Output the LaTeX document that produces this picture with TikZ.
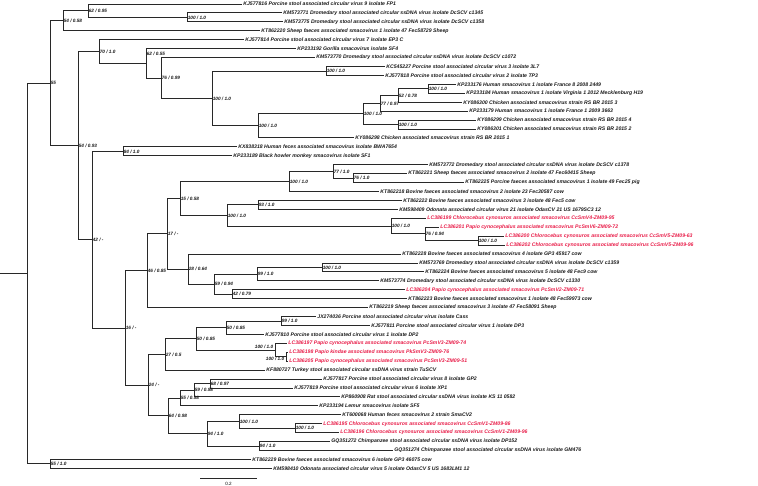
\documentclass[tikz,border=0pt]{standalone}
\usepackage{fontspec}
\setmainfont{Liberation Sans}
\usetikzlibrary{calc}
\definecolor{accred}{RGB}{232,28,72}
\definecolor{treeline}{RGB}{40,40,40}
\tikzset{
  leaf/.style={anchor=west, inner xsep=1.2pt, inner ysep=0pt, font=\fontsize{5.15}{6}\selectfont\bfseries\itshape, text=black!90},
  redleaf/.style={leaf, text=accred},
  sup/.style={anchor=west, inner sep=0.6pt, font=\fontsize{4.7}{5}\selectfont\bfseries\itshape, text=black!90},
  br/.style={draw=treeline, line width=0.9pt},
}
\newcommand{\brn}[2]{\draw[br] (#1) |- (#2);}
\newcommand{\suplab}[3][]{\node[sup,#1] (s-#2) at (#2) {#3};}
\begin{document}
\begin{tikzpicture}[x=1pt,y=-1pt]
\useasboundingbox (0,0) rectangle (758,486);
% ---------- leaves ----------
\node[leaf] (l1) at (242,4.00) {KJ577816 Porcine stool associated circular virus 9 isolate FP1};
\node[leaf] (l2) at (282,12.93) {KM573771 Dromedary stool associated circular ssDNA virus isolate DcSCV c1345};
\node[leaf] (l3) at (283,21.86) {KM573775 Dromedary stool associated circular ssDNA virus isolate DcSCV c1358};
\node[leaf] (l4) at (260,30.79) {KT862220 Sheep faeces associated smacovirus 1 isolate 47 Fec58729 Sheep};
\node[leaf] (l5) at (244,39.72) {KJ577814 Porcine stool associated circular virus 7 isolate EP3 C};
\node[leaf] (l6) at (296,48.65) {KP233192 Gorilla smacovirus isolate SF4};
\node[leaf] (l7) at (315,57.58) {KM573770 Dromedary stool associated circular ssDNA virus isolate DcSCV c1072};
\node[leaf] (l8) at (385,66.51) {KC545227 Porcine stool associated circular virus 3 isolate 3L7};
\node[leaf] (l9) at (384,75.44) {KJ577818 Porcine stool associated circular virus 2 isolate TP3};
\node[leaf] (l10) at (456,84.37) {KP233176 Human smacovirus 1 isolate France 8 2008 2449};
\node[leaf] (l11) at (465,93.30) {KP233184 Human smacovirus 1 isolate Virginia 1 2012 Mecklenburg H19};
\node[leaf] (l12) at (462,102.23) {KY086300 Chicken associated smacovirus strain RS BR 2015 3};
\node[leaf] (l13) at (468,111.16) {KP233179 Human smacovirus 1 isolate France 1 2009 3663};
\node[leaf] (l14) at (476,120.09) {KY086299 Chicken associated smacovirus strain RS BR 2015 4};
\node[leaf] (l15) at (476,129.02) {KY086301 Chicken associated smacovirus strain RS BR 2015 2};
\node[leaf] (l16) at (354,137.95) {KY086298 Chicken associated smacovirus strain RS BR 2015 1};
\node[leaf] (l17) at (237,146.88) {KX838318 Human feces associated smacovirus isolate BWA7654};
\node[leaf] (l18) at (232,155.81) {KP233189 Black howler monkey smacovirus isolate SF1};
\node[leaf] (l19) at (428,164.74) {KM573772 Dromedary stool associated circular ssDNA virus isolate DcSCV c1378};
\node[leaf] (l20) at (407,173.67) {KT862221 Sheep faeces associated smacovirus 2 isolate 47 Fec60415 Sheep};
\node[leaf] (l21) at (464,182.60) {KT862225 Porcine faeces associated smacovirus 1 isolate 49 Fec25 pig};
\node[leaf] (l22) at (379,191.53) {KT862218 Bovine faeces associated smacovirus 2 isolate 23 Fec30587 cow};
\node[leaf] (l23) at (402,200.46) {KT862222 Bovine faeces associated smacovirus 3 isolate 48 Fec5 cow};
\node[leaf] (l24) at (398,209.39) {KM598409 Odonata associated circular virus 21 isolate OdasCV 21 US 1679SC3 12};
\node[redleaf] (l25) at (426,218.32) {LC386199 Chlorocebus cynosuros associated smacovirus CcSmV4-ZM09-95};
\node[redleaf] (l26) at (439,227.25) {LC386201 Papio cynocephalus associated smacovirus PcSmV6-ZM09-72};
\node[redleaf] (l27) at (504,236.18) {LC386200 Chlorocebus cynosuros associated smacovirus CcSmV5-ZM09-63};
\node[redleaf] (l28) at (505,245.11) {LC386202 Chlorocebus cynosuros associated smacovirus CcSmV5-ZM09-96};
\node[leaf] (l29) at (401,254.04) {KT862228 Bovine faeces associated smacovirus 4 isolate GP3 45917 cow};
\node[leaf] (l30) at (418,262.97) {KM573769 Dromedary stool associated circular ssDNA virus isolate DcSCV c1359};
\node[leaf] (l31) at (424,271.90) {KT862224 Bovine faeces associated smacovirus 5 isolate 48 Fec9 cow};
\node[leaf] (l32) at (379,280.83) {KM573774 Dromedary stool associated circular ssDNA virus isolate DcSCV c1330};
\node[redleaf] (l33) at (405,289.76) {LC386204 Papio cynocephalus associated smacovirus PcSmV2-ZM09-71};
\node[leaf] (l34) at (407,298.69) {KT862223 Bovine faeces associated smacovirus 1 isolate 48 Fec59973 cow};
\node[leaf] (l35) at (368,307.62) {KT862219 Sheep faeces associated smacovirus 3 isolate 47 Fec58091 Sheep};
\node[leaf] (l36) at (316,316.55) {JX274036 Porcine stool associated circular virus isolate Cass};
\node[leaf] (l37) at (370,325.48) {KJ577811 Porcine stool associated circular virus 1 isolate DP3};
\node[leaf] (l38) at (264,334.41) {KJ577810 Porcine stool associated circular virus 1 isolate DP2};
\node[redleaf] (l39) at (287,343.34) {LC386197 Papio cynocephalus associated smacovirus PcSmV3-ZM09-74};
\node[redleaf] (l40) at (288,352.27) {LC386198 Papio kindae associated smacovirus PkSmV3-ZM09-76};
\node[redleaf] (l41) at (288,361.20) {LC386205 Papio cynocephalus associated smacovirus PcSmV3-ZM09-51};
\node[leaf] (l42) at (265,370.13) {KF880727 Turkey stool associated circular ssDNA virus strain TuSCV};
\node[leaf] (l43) at (322,379.06) {KJ577817 Porcine stool associated circular virus 8 isolate GP2};
\node[leaf] (l44) at (293,387.99) {KJ577819 Porcine stool associated circular virus 6 isolate XP1};
\node[leaf] (l45) at (340,396.92) {KP860908 Rat stool associated circular ssDNA virus isolate KS 11 0582};
\node[leaf] (l46) at (318,405.85) {KP233194 Lemur smacovirus isolate SF5};
\node[leaf] (l47) at (341,414.78) {KT600068 Human feces smacovirus 2 strain SmaCV2};
\node[redleaf] (l48) at (322,423.71) {LC386195 Chlorocebus cynosuros associated smacovirus CcSmV1-ZM09-86};
\node[redleaf] (l49) at (339,432.64) {LC386196 Chlorocebus cynosuros associated smacovirus CcSmV1-ZM09-96};
\node[leaf] (l50) at (330,441.57) {GQ351272 Chimpanzee stool associated circular ssDNA virus isolate DP152};
\node[leaf] (l51) at (393,450.50) {GQ351274 Chimpanzee stool associated circular ssDNA virus isolate GM476};
\node[leaf] (l52) at (251,459.43) {KT862229 Bovine faeces associated smacovirus 6 isolate GP3 46075 cow};
\node[leaf] (l53) at (272,468.36) {KM598410 Odonata associated circular virus 5 isolate OdasCV 5 US 1683LM1 12};
% ---------- internal nodes ----------
\coordinate (r0) at (0,273.53);
\coordinate (root) at (27,273.53);
\coordinate (n55) at (50,83.17);
\coordinate (n551) at (50,463.90);
\coordinate (n5458) at (63,20.75);
\coordinate (n6295) at (88,10.70);
\coordinate (n100a) at (187,17.40);
\coordinate (n5493) at (78,145.60);
\coordinate (n7010) at (99,51.53);
\coordinate (n6255) at (146,63.34);
\coordinate (n7699) at (161,78.02);
\coordinate (nB) at (212,98.47);
\coordinate (nC) at (326,70.98);
\coordinate (nD) at (258,125.95);
\coordinate (nE) at (363,113.95);
\coordinate (nF) at (380,103.35);
\coordinate (nG) at (398,124.56);
\coordinate (nH) at (398,95.53);
\coordinate (nI) at (428,88.84);
\coordinate (n42) at (92,239.66);
\coordinate (nJ) at (123,151.35);
\coordinate (nK) at (125,327.96);
\coordinate (nL) at (147,270.71);
\coordinate (nN) at (167,233.81);
\coordinate (nP) at (180,198.51);
\coordinate (nQ) at (289,181.49);
\coordinate (nS) at (333,171.44);
\coordinate (nT) at (353,178.14);
\coordinate (nR) at (227,215.53);
\coordinate (nU) at (258,204.93);
\coordinate (nV) at (391,226.14);
\coordinate (nW) at (425,233.95);
\coordinate (nX) at (478,240.65);
\coordinate (nO) at (188,269.11);
\coordinate (nY) at (214,284.18);
\coordinate (nZ) at (257,274.13);
\coordinate (nAB) at (322,267.44);
\coordinate (nAA) at (232,294.23);
\coordinate (nM) at (148,385.20);
\coordinate (nAC) at (165,354.50);
\coordinate (nAE) at (196,338.87);
\coordinate (nAF) at (226,327.71);
\coordinate (nAH) at (281,321.02);
\coordinate (nAG) at (275,350.04);
\coordinate (nAI) at (286,356.74);
\coordinate (nAD) at (168,415.90);
\coordinate (nAJ) at (180,398.04);
\coordinate (nAL) at (194,390.22);
\coordinate (nAN) at (210,383.52);
\coordinate (nAK) at (207,433.76);
\coordinate (nAO) at (239,421.48);
\coordinate (nAQ) at (295,428.18);
\coordinate (nAP) at (259,446.04);
% ---------- branches ----------
\draw[br] (r0) -- (root);
\brn{root}{n55} \brn{root}{n551}
\brn{n551}{l52.west} \brn{n551}{l53.west}
\brn{n55}{n5458} \brn{n55}{n5493}
\brn{n5458}{n6295} \brn{n5458}{l4.west}
\brn{n6295}{l1.west} \brn{n6295}{n100a}
\brn{n100a}{l2.west} \brn{n100a}{l3.west}
\brn{n5493}{n7010} \brn{n5493}{n42}
\brn{n7010}{l5.west} \brn{n7010}{n6255}
\brn{n6255}{l6.west} \brn{n6255}{n7699}
\brn{n7699}{l7.west} \brn{n7699}{nB}
\brn{nB}{nC} \brn{nB}{nD}
\brn{nC}{l8.west} \brn{nC}{l9.west}
\brn{nD}{nE} \brn{nD}{l16.west}
\brn{nE}{nF} \brn{nE}{nG}
\brn{nF}{nH} \brn{nF}{l13.west}
\brn{nH}{nI} \brn{nH}{l12.west}
\brn{nI}{l10.west} \brn{nI}{l11.west}
\brn{nG}{l14.west} \brn{nG}{l15.west}
\brn{n42}{nJ} \brn{n42}{nK}
\brn{nJ}{l17.west} \brn{nJ}{l18.west}
\brn{nK}{nL} \brn{nK}{nM}
\brn{nL}{nN} \brn{nL}{l35.west}
\brn{nN}{nP} \brn{nN}{nO}
\brn{nP}{nQ} \brn{nP}{nR}
\brn{nQ}{nS} \brn{nQ}{l22.west}
\brn{nS}{l19.west} \brn{nS}{nT}
\brn{nT}{l20.west} \brn{nT}{l21.west}
\brn{nR}{nU} \brn{nR}{nV}
\brn{nU}{l23.west} \brn{nU}{l24.west}
\brn{nV}{l25.west} \brn{nV}{nW}
\brn{nW}{l26.west} \brn{nW}{nX}
\brn{nX}{l27.west} \brn{nX}{l28.west}
\brn{nO}{l29.west} \brn{nO}{nY}
\brn{nY}{nZ} \brn{nY}{nAA}
\brn{nZ}{nAB} \brn{nZ}{l32.west}
\brn{nAB}{l30.west} \brn{nAB}{l31.west}
\brn{nAA}{l33.west} \brn{nAA}{l34.west}
\brn{nM}{nAC} \brn{nM}{nAD}
\brn{nAC}{nAE} \brn{nAC}{l42.west}
\brn{nAE}{nAF} \brn{nAE}{nAG}
\brn{nAF}{nAH} \brn{nAF}{l38.west}
\brn{nAH}{l36.west} \brn{nAH}{l37.west}
\brn{nAG}{l39.west} \brn{nAG}{nAI}
\brn{nAI}{l40.west} \brn{nAI}{l41.west}
\brn{nAD}{nAJ} \brn{nAD}{nAK}
\brn{nAJ}{nAL} \brn{nAJ}{l46.west}
\brn{nAL}{nAN} \brn{nAL}{l45.west}
\brn{nAN}{l43.west} \brn{nAN}{l44.west}
\brn{nAK}{nAO} \brn{nAK}{nAP}
\brn{nAO}{l47.west} \brn{nAO}{nAQ}
\brn{nAQ}{l48.west} \brn{nAQ}{l49.west}
\brn{nAP}{l50.west} \brn{nAP}{l51.west}
% ---------- support values ----------
\suplab{n55}{55}
\suplab{n551}{55 / 1.0}
\suplab{n5458}{54 / 0.58}
\suplab{n6295}{62 / 0.95}
\suplab{n100a}{100 / 1.0}
\suplab{n5493}{54 / 0.93}
\suplab{n7010}{70 / 1.0}
\suplab[yshift=9pt]{n6255}{62 / 0.55}
\suplab{n7699}{76 / 0.99}
\suplab{nB}{100 / 1.0}
\suplab{nC}{100 / 1.0}
\suplab{nD}{100 / 1.0}
\suplab{nE}{100 / 1.0}
\suplab{nF}{77 / 0.97}
\suplab{nH}{52 / 0.78}
\suplab{nI}{100 / 1.0}
\suplab{nG}{100 / 1.0}
\suplab{n42}{42 / -}
\suplab{nJ}{84 / 1.0}
\suplab{nK}{16 / -}
\suplab{nL}{46 / 0.85}
\suplab{nN}{17 / -}
\suplab{nP}{15 / 0.58}
\suplab{nQ}{100 / 1.0}
\suplab{nS}{77 / 1.0}
\suplab{nT}{76 / 1.0}
\suplab{nR}{100 / 1.0}
\suplab{nU}{93 / 1.0}
\suplab{nV}{100 / 1.0}
\suplab{nW}{76 / 0.94}
\suplab{nX}{100 / 1.0}
\suplab{nO}{28 / 0.64}
\suplab{nY}{59 / 0.94}
\suplab{nZ}{99 / 1.0}
\suplab{nAB}{100 / 1.0}
\suplab{nAA}{42 / 0.79}
\suplab{nM}{24 / -}
\suplab{nAC}{27 / 0.5}
\suplab{nAE}{50 / 0.85}
\suplab{nAF}{50 / 0.85}
\suplab{nAH}{99 / 1.0}
\suplab[anchor=east,xshift=-1pt,yshift=3pt]{nAG}{100 / 1.0}
\suplab[anchor=east,xshift=-1pt,yshift=-2.5pt]{nAI}{100 / 1.0}
\suplab{nAD}{64 / 0.98}
\suplab{nAJ}{55 / 0.98}
\suplab{nAL}{59 / 0.98}
\suplab{nAN}{68 / 0.97}
\suplab{nAK}{94 / 1.0}
\suplab{nAO}{100 / 1.0}
\suplab{nAQ}{100 / 1.0}
\suplab{nAP}{94 / 1.0}
% ---------- scale bar ----------
\coordinate (sbA) at (200,478);
\coordinate (sbB) at (257,478);
\draw[br,line width=0.6pt] (sbA) -- (sbB);
\node[font=\fontsize{4.6}{5}\selectfont, inner sep=0pt] (sbl) at (228.5,484) {0.2};
\end{tikzpicture}
\end{document}
